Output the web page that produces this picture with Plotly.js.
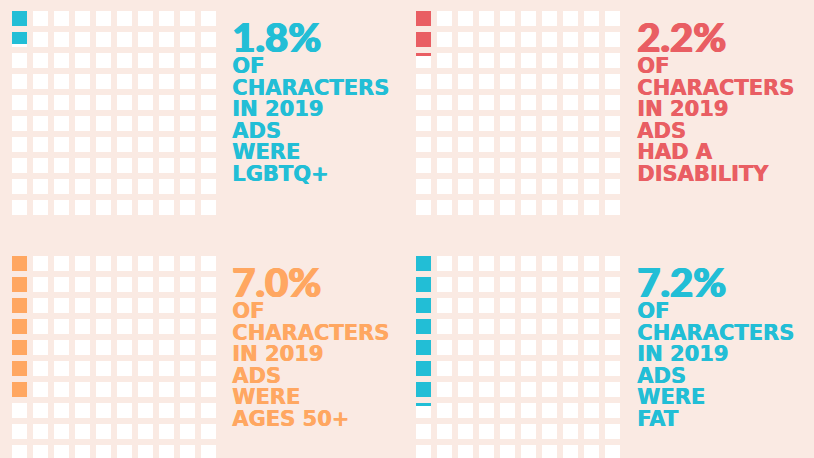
<!DOCTYPE html>
<html>
<head>
<meta charset="utf-8">
<script src="https://cdn.plot.ly/plotly-3.0.1.min.js"></script>
<style>html,body{margin:0;padding:0;background:#FAEAE3;}#chart{width:814px;height:458px;}</style>
</head>
<body>
<div id="chart"></div>
<script>
// ---- data ----
const percents = [1.8, 2.2, 7.0, 7.2];
const pctLabels = ['1.8%', '2.2%', '7.0%', '7.2%'];
const captionLines = [
  ['OF', 'CHARACTERS', 'IN 2019', 'ADS', 'WERE', 'LGBTQ+'],
  ['OF', 'CHARACTERS', 'IN 2019', 'ADS', 'HAD A', 'DISABILITY'],
  ['OF', 'CHARACTERS', 'IN 2019', 'ADS', 'WERE', 'AGES 50+'],
  ['OF', 'CHARACTERS', 'IN 2019', 'ADS', 'WERE', 'FAT']
];
const panelColors = ['#22BED6', '#E95E63', '#FFA761', '#22BED6'];
const gridCols = 10, gridRows = 10;

// ---- layout geometry (pixels) ----
const W = 814, H = 458;
const BG = '#FAEAE3';
const pitch = 21;           // px per cell
const cell = 0.714;         // square size in cell units
const panelLeft = [9, 413, 9, 413];
const panelTop = [8, 8, 253, 253];
const textLeft = [231, 636, 231, 636];
const textTop = [8, 8, 253, 253];

const traces = [];
const layout = {
  width: W, height: H,
  margin: {l: 0, r: 0, t: 0, b: 0},
  paper_bgcolor: BG, plot_bgcolor: BG,
  barmode: 'overlay',
  showlegend: false,
  hovermode: false,
  annotations: []
};

percents.forEach((p, i) => {
  const ax = i === 0 ? '' : String(i + 1);
  const left = panelLeft[i], top = panelTop[i];
  const bottomPx = Math.min(top + pitch * gridRows, H);
  const rangeBottom = -0.5 + (bottomPx - top) / pitch;
  layout['xaxis' + ax] = {
    domain: [left / W, (left + pitch * gridCols) / W],
    range: [-0.5, gridCols - 0.5],
    showgrid: false, zeroline: false, showticklabels: false, ticks: '',
    anchor: 'y' + ax, fixedrange: true
  };
  layout['yaxis' + ax] = {
    domain: [1 - bottomPx / H, 1 - top / H],
    range: [rangeBottom, -0.5],
    showgrid: false, zeroline: false, showticklabels: false, ticks: '',
    anchor: 'x' + ax, fixedrange: true
  };
  // empty squares
  const ex = [], eb = [], ey = [];
  for (let k = 0; k < gridCols * gridRows; k++) {
    const col = Math.floor(k / gridRows), row = k % gridRows;
    ex.push(col); eb.push(row - cell / 2); ey.push(cell);
  }
  traces.push({
    type: 'bar', x: ex, y: ey, base: eb, width: cell,
    xaxis: 'x' + ax, yaxis: 'y' + ax,
    marker: {color: '#FFFFFF', line: {width: 0}}
  });
  // filled squares (fill down columns, partial from top)
  const fx = [], fb = [], fy = [];
  for (let k = 0; k < Math.ceil(p - 1e-9); k++) {
    const col = Math.floor(k / gridRows), row = k % gridRows;
    const frac = Math.min(1, p - k);
    fx.push(col); fb.push(row - cell / 2); fy.push(cell * frac);
  }
  traces.push({
    type: 'bar', x: fx, y: fy, base: fb, width: cell,
    xaxis: 'x' + ax, yaxis: 'y' + ax,
    marker: {color: panelColors[i], line: {width: 0}}
  });
  // text
  const c = panelColors[i];
  const tx = textLeft[i] / W;
  const t0 = textTop[i];
  layout.annotations.push({
    xref: 'paper', yref: 'paper', x: tx, y: 1 - (t0 + 29) / H,
    xanchor: 'left', yanchor: 'middle', showarrow: false, borderpad: 0,
    text: pctLabels[i],
    font: {family: 'Lato Black, Lato, sans-serif', size: 40, color: c, weight: 900,
           shadow: '1px 0 0 ' + c + ', -0.5px 0 0 ' + c}
  });
  captionLines[i].forEach((line, j) => {
    layout.annotations.push({
      xref: 'paper', yref: 'paper', x: tx, y: 1 - (t0 + 58 + j * 21.5) / H,
      xanchor: 'left', yanchor: 'middle', showarrow: false, borderpad: 0,
      text: line,
      font: {family: 'DejaVu Sans, sans-serif', size: 21, color: c, weight: 700,
             shadow: '0.6px 0 0 ' + c}
    });
  });
});

Plotly.newPlot('chart', traces, layout, {displayModeBar: false, staticPlot: true});
</script>
</body>
</html>
